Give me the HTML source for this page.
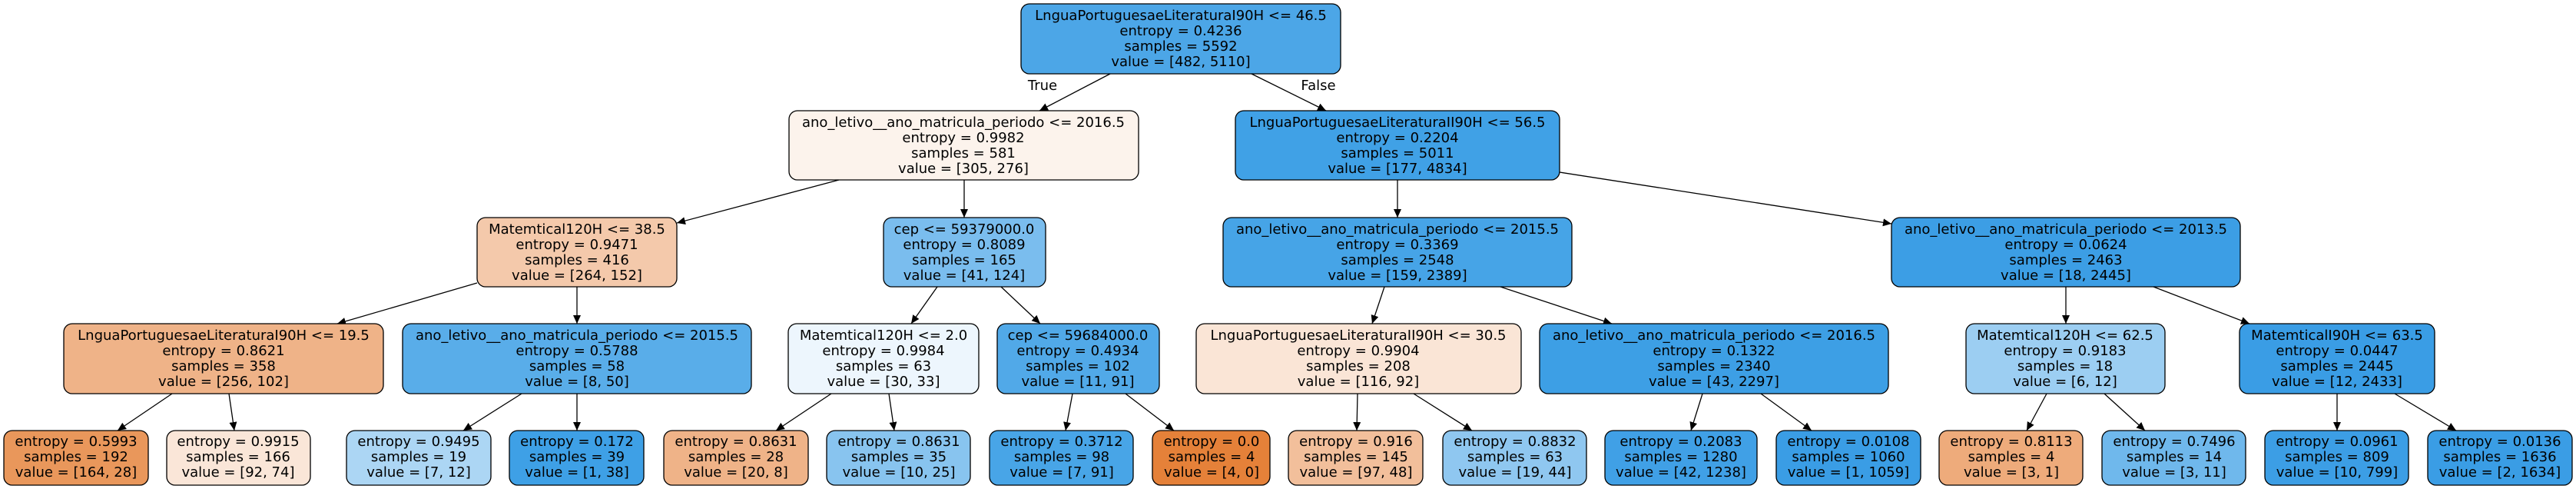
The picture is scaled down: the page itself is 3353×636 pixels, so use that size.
<!DOCTYPE html>
<html><head><meta charset="utf-8"><style>
html,body{margin:0;padding:0;background:#fff;}
svg{display:block;}
text{font-family:"DejaVu Sans","Liberation Sans",sans-serif;font-size:18px;fill:#000;text-anchor:middle;}
.b{stroke:#000;stroke-width:1.3;}
line{stroke:#000;stroke-width:1.3;}
</style></head><body>
<svg width="3353" height="636" viewBox="0 0 3353 636" xmlns="http://www.w3.org/2000/svg">
<defs><marker id="a" markerUnits="userSpaceOnUse" markerWidth="12" markerHeight="12" refX="11" refY="5" orient="auto"><path d="M0,0 L11,5 L0,10 Z" fill="#000"/></marker></defs>
<g>
<line x1="1445" y1="96" x2="1353" y2="144" marker-end="url(#a)"/>
<line x1="1629" y1="96" x2="1726" y2="144" marker-end="url(#a)"/>
<line x1="1092" y1="234" x2="881" y2="290" marker-end="url(#a)"/>
<line x1="1255" y1="234" x2="1255" y2="283" marker-end="url(#a)"/>
<line x1="621" y1="368" x2="439" y2="421" marker-end="url(#a)"/>
<line x1="751" y1="373" x2="751" y2="421" marker-end="url(#a)"/>
<line x1="224" y1="512" x2="153" y2="560" marker-end="url(#a)"/>
<line x1="298" y1="512" x2="305" y2="560" marker-end="url(#a)"/>
<line x1="679" y1="512" x2="603" y2="560" marker-end="url(#a)"/>
<line x1="751" y1="512" x2="751" y2="560" marker-end="url(#a)"/>
<line x1="1220" y1="373" x2="1186" y2="421" marker-end="url(#a)"/>
<line x1="1303" y1="373" x2="1354" y2="421" marker-end="url(#a)"/>
<line x1="1082" y1="512" x2="1010" y2="560" marker-end="url(#a)"/>
<line x1="1157" y1="512" x2="1164" y2="560" marker-end="url(#a)"/>
<line x1="1396" y1="512" x2="1387" y2="560" marker-end="url(#a)"/>
<line x1="1465" y1="512" x2="1528" y2="560" marker-end="url(#a)"/>
<line x1="1819" y1="234" x2="1819" y2="283" marker-end="url(#a)"/>
<line x1="2030" y1="224" x2="2462" y2="291" marker-end="url(#a)"/>
<line x1="1802" y1="373" x2="1786" y2="421" marker-end="url(#a)"/>
<line x1="1953" y1="373" x2="2098" y2="421" marker-end="url(#a)"/>
<line x1="1767" y1="512" x2="1766" y2="560" marker-end="url(#a)"/>
<line x1="1840" y1="512" x2="1916" y2="560" marker-end="url(#a)"/>
<line x1="2216" y1="512" x2="2201" y2="560" marker-end="url(#a)"/>
<line x1="2292" y1="512" x2="2358" y2="560" marker-end="url(#a)"/>
<line x1="2689" y1="373" x2="2689" y2="421" marker-end="url(#a)"/>
<line x1="2803" y1="373" x2="2928" y2="421" marker-end="url(#a)"/>
<line x1="2664" y1="512" x2="2638" y2="560" marker-end="url(#a)"/>
<line x1="2739" y1="512" x2="2792" y2="560" marker-end="url(#a)"/>
<line x1="3042" y1="512" x2="3042" y2="560" marker-end="url(#a)"/>
<line x1="3117" y1="512" x2="3197" y2="560" marker-end="url(#a)"/>
</g>
<text x="1357" y="117">True</text>
<text x="1716" y="117">False</text>

<!-- row1 -->
<rect class="b" x="1329" y="5" width="416" height="91" rx="11" fill="#4ca6e7"/>
<text x="1537" y="26">LnguaPortuguesaeLiteraturaI90H &lt;= 46.5</text><text x="1537" y="46">entropy = 0.4236</text><text x="1537" y="66">samples = 5592</text><text x="1537" y="86">value = [482, 5110]</text>

<!-- row2 -->
<rect class="b" x="1027" y="144" width="455" height="90" rx="11" fill="#fcf3ec"/>
<text x="1254" y="165">ano_letivo__ano_matricula_periodo &lt;= 2016.5</text><text x="1254" y="185">entropy = 0.9982</text><text x="1254" y="205">samples = 581</text><text x="1254" y="225">value = [305, 276]</text>
<rect class="b" x="1608" y="144" width="422" height="90" rx="11" fill="#40a1e6"/>
<text x="1819" y="165">LnguaPortuguesaeLiteraturaII90H &lt;= 56.5</text><text x="1819" y="185">entropy = 0.2204</text><text x="1819" y="205">samples = 5011</text><text x="1819" y="225">value = [177, 4834]</text>

<!-- row3 -->
<rect class="b" x="621" y="283" width="260" height="90" rx="11" fill="#f4c9ab"/>
<text x="751" y="304">Matemtical120H &lt;= 38.5</text><text x="751" y="324">entropy = 0.9471</text><text x="751" y="344">samples = 416</text><text x="751" y="364">value = [264, 152]</text>
<rect class="b" x="1150" y="283" width="211" height="90" rx="11" fill="#7abdee"/>
<text x="1255" y="304">cep &lt;= 59379000.0</text><text x="1255" y="324">entropy = 0.8089</text><text x="1255" y="344">samples = 165</text><text x="1255" y="364">value = [41, 124]</text>
<rect class="b" x="1592" y="283" width="454" height="90" rx="11" fill="#46a4e7"/>
<text x="1819" y="304">ano_letivo__ano_matricula_periodo &lt;= 2015.5</text><text x="1819" y="324">entropy = 0.3369</text><text x="1819" y="344">samples = 2548</text><text x="1819" y="364">value = [159, 2389]</text>
<rect class="b" x="2462" y="283" width="454" height="90" rx="11" fill="#3c9ee5"/>
<text x="2689" y="304">ano_letivo__ano_matricula_periodo &lt;= 2013.5</text><text x="2689" y="324">entropy = 0.0624</text><text x="2689" y="344">samples = 2463</text><text x="2689" y="364">value = [18, 2445]</text>

<!-- row4 -->
<rect class="b" x="83" y="421" width="416" height="91" rx="11" fill="#efb388"/>
<text x="291" y="442">LnguaPortuguesaeLiteraturaI90H &lt;= 19.5</text><text x="291" y="462">entropy = 0.8621</text><text x="291" y="482">samples = 358</text><text x="291" y="502">value = [256, 102]</text>
<rect class="b" x="524" y="421" width="454" height="91" rx="11" fill="#59ade9"/>
<text x="751" y="442">ano_letivo__ano_matricula_periodo &lt;= 2015.5</text><text x="751" y="462">entropy = 0.5788</text><text x="751" y="482">samples = 58</text><text x="751" y="502">value = [8, 50]</text>
<rect class="b" x="1026" y="421" width="248" height="91" rx="11" fill="#edf6fd"/>
<text x="1150" y="442">Matemtical120H &lt;= 2.0</text><text x="1150" y="462">entropy = 0.9984</text><text x="1150" y="482">samples = 63</text><text x="1150" y="502">value = [30, 33]</text>
<rect class="b" x="1298" y="421" width="211" height="91" rx="11" fill="#51a9e8"/>
<text x="1403" y="442">cep &lt;= 59684000.0</text><text x="1403" y="462">entropy = 0.4934</text><text x="1403" y="482">samples = 102</text><text x="1403" y="502">value = [11, 91]</text>
<rect class="b" x="1557" y="421" width="423" height="91" rx="11" fill="#fae5d6"/>
<text x="1768" y="442">LnguaPortuguesaeLiteraturaII90H &lt;= 30.5</text><text x="1768" y="462">entropy = 0.9904</text><text x="1768" y="482">samples = 208</text><text x="1768" y="502">value = [116, 92]</text>
<rect class="b" x="2004" y="421" width="454" height="91" rx="11" fill="#3d9fe5"/>
<text x="2231" y="442">ano_letivo__ano_matricula_periodo &lt;= 2016.5</text><text x="2231" y="462">entropy = 0.1322</text><text x="2231" y="482">samples = 2340</text><text x="2231" y="502">value = [43, 2297]</text>
<rect class="b" x="2559" y="421" width="259" height="91" rx="11" fill="#9ccef2"/>
<text x="2688" y="442">Matemtical120H &lt;= 62.5</text><text x="2688" y="462">entropy = 0.9183</text><text x="2688" y="482">samples = 18</text><text x="2688" y="502">value = [6, 12]</text>
<rect class="b" x="2915" y="421" width="254" height="91" rx="11" fill="#3a9de5"/>
<text x="3042" y="442">MatemticalI90H &lt;= 63.5</text><text x="3042" y="462">entropy = 0.0447</text><text x="3042" y="482">samples = 2445</text><text x="3042" y="502">value = [12, 2433]</text>

<!-- leaves -->
<rect class="b" x="5" y="560" width="188" height="71" rx="11" fill="#e9975b"/>
<text x="99" y="580">entropy = 0.5993</text><text x="99" y="600">samples = 192</text><text x="99" y="620">value = [164, 28]</text>
<rect class="b" x="217" y="560" width="187" height="71" rx="11" fill="#fae6d8"/>
<text x="310" y="580">entropy = 0.9915</text><text x="310" y="600">samples = 166</text><text x="310" y="620">value = [92, 74]</text>
<rect class="b" x="451" y="560" width="188" height="71" rx="11" fill="#acd6f4"/>
<text x="545" y="580">entropy = 0.9495</text><text x="545" y="600">samples = 19</text><text x="545" y="620">value = [7, 12]</text>
<rect class="b" x="663" y="560" width="175" height="71" rx="11" fill="#3ea0e6"/>
<text x="751" y="580">entropy = 0.172</text><text x="751" y="600">samples = 39</text><text x="751" y="620">value = [1, 38]</text>
<rect class="b" x="864" y="560" width="188" height="71" rx="11" fill="#efb388"/>
<text x="958" y="580">entropy = 0.8631</text><text x="958" y="600">samples = 28</text><text x="958" y="620">value = [20, 8]</text>
<rect class="b" x="1076" y="560" width="187" height="71" rx="11" fill="#88c4ef"/>
<text x="1170" y="580">entropy = 0.8631</text><text x="1170" y="600">samples = 35</text><text x="1170" y="620">value = [10, 25]</text>
<rect class="b" x="1288" y="560" width="187" height="71" rx="11" fill="#48a5e7"/>
<text x="1382" y="580">entropy = 0.3712</text><text x="1382" y="600">samples = 98</text><text x="1382" y="620">value = [7, 91]</text>
<rect class="b" x="1500" y="560" width="153" height="71" rx="11" fill="#e58139"/>
<text x="1577" y="580">entropy = 0.0</text><text x="1577" y="600">samples = 4</text><text x="1577" y="620">value = [4, 0]</text>
<rect class="b" x="1677" y="560" width="175" height="71" rx="11" fill="#f2bf9b"/>
<text x="1765" y="580">entropy = 0.916</text><text x="1765" y="600">samples = 145</text><text x="1765" y="620">value = [97, 48]</text>
<rect class="b" x="1878" y="560" width="187" height="71" rx="11" fill="#8fc7f0"/>
<text x="1972" y="580">entropy = 0.8832</text><text x="1972" y="600">samples = 63</text><text x="1972" y="620">value = [19, 44]</text>
<rect class="b" x="2089" y="560" width="198" height="71" rx="11" fill="#40a0e6"/>
<text x="2188" y="580">entropy = 0.2083</text><text x="2188" y="600">samples = 1280</text><text x="2188" y="620">value = [42, 1238]</text>
<rect class="b" x="2312" y="560" width="188" height="71" rx="11" fill="#3a9de5"/>
<text x="2406" y="580">entropy = 0.0108</text><text x="2406" y="600">samples = 1060</text><text x="2406" y="620">value = [1, 1059]</text>
<rect class="b" x="2524" y="560" width="187" height="71" rx="11" fill="#eeab7b"/>
<text x="2618" y="580">entropy = 0.8113</text><text x="2618" y="600">samples = 4</text><text x="2618" y="620">value = [3, 1]</text>
<rect class="b" x="2736" y="560" width="187" height="71" rx="11" fill="#6fb8ec"/>
<text x="2830" y="580">entropy = 0.7496</text><text x="2830" y="600">samples = 14</text><text x="2830" y="620">value = [3, 11]</text>
<rect class="b" x="2948" y="560" width="187" height="71" rx="11" fill="#3c9ee5"/>
<text x="3042" y="580">entropy = 0.0961</text><text x="3042" y="600">samples = 809</text><text x="3042" y="620">value = [10, 799]</text>
<rect class="b" x="3160" y="560" width="188" height="71" rx="11" fill="#3a9de5"/>
<text x="3254" y="580">entropy = 0.0136</text><text x="3254" y="600">samples = 1636</text><text x="3254" y="620">value = [2, 1634]</text>
</svg>
</body></html>
